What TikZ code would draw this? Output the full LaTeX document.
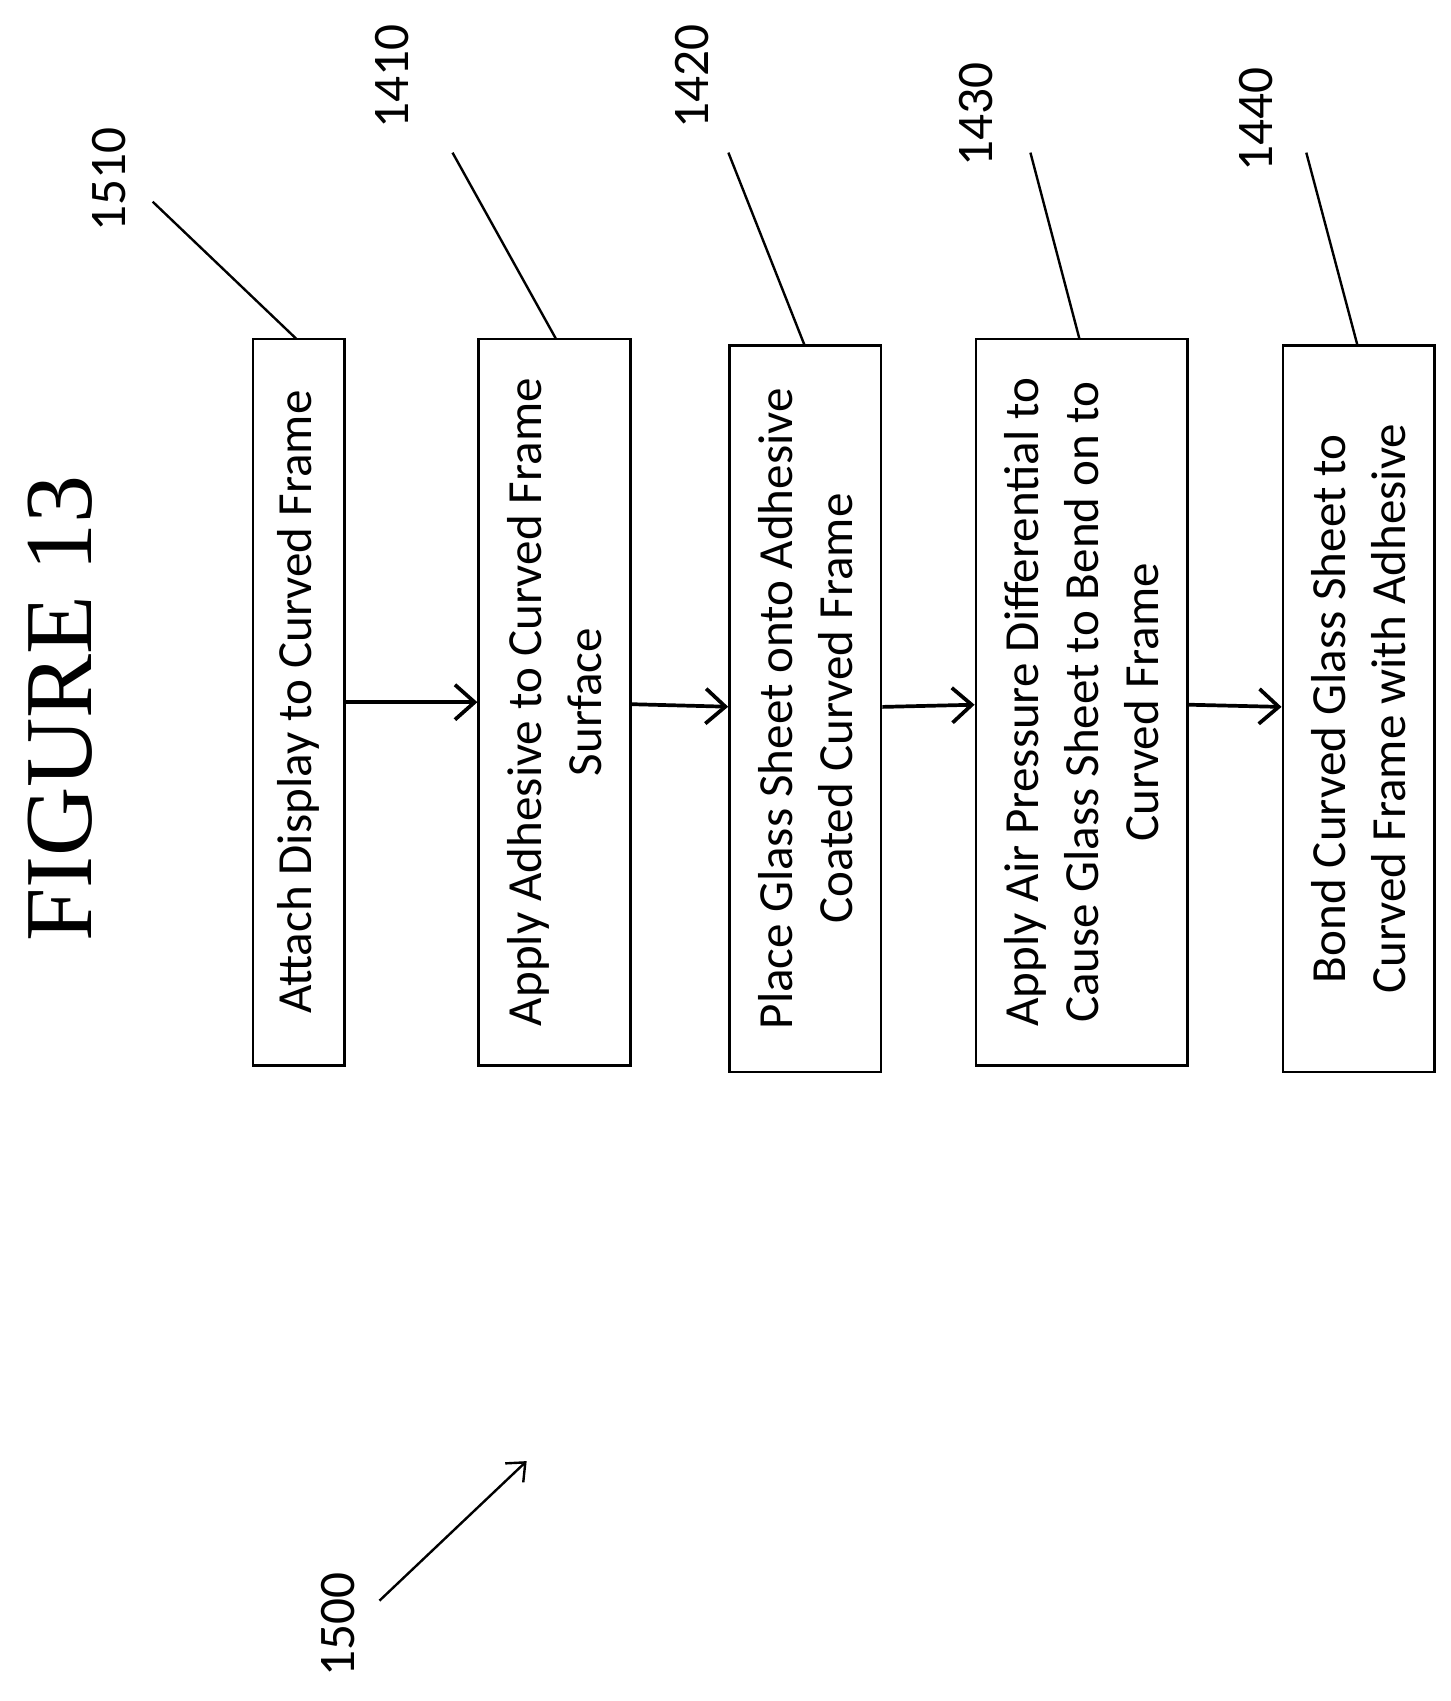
\documentclass[tikz,border=0pt]{standalone}
\usepackage{fontspec}
\setmainfont{Liberation Serif}
\newfontfamily\boxfont{Carlito}
\usetikzlibrary{arrows.meta}
\begin{document}
\begin{tikzpicture}[x=1pt,y=1pt,
  box/.style={draw,line width=2.4pt,rotate=90,minimum width=666pt,align=center,inner sep=0pt,font=\boxfont\fontsize{45}{55}\selectfont},
  lbl/.style={rotate=90,font=\boxfont\fontsize{47}{50}\selectfont},
  lead/.style={line width=2.2pt},
  flow/.style={line width=3.4pt,-{Straight Barb[length=18pt,width=32pt,line width=3.4pt]}}]
\useasboundingbox (0,0) rectangle (1330,1560);
\node[rotate=90,font=\fontsize{88}{90}\selectfont] (title) at (55,910) {FIGURE 13};
\node[box,minimum height=84pt] (b1) at (274,916) {Attach Display to Curved Frame};
\node[box,minimum height=139pt] (b2) at (508.5,916) {Apply Adhesive to Curved Frame\\Surface};
\node[box,minimum height=139pt] (b3) at (738.5,910) {Place Glass Sheet onto Adhesive\\Coated Curved Frame};
\node[box,minimum height=194pt] (b4) at (992,916) {Apply Air Pressure Differential to\\Cause Glass Sheet to Bend on to\\Curved Frame};
\node[box,minimum height=139pt] (b5) at (1246,910) {Bond Curved Glass Sheet to\\Curved Frame with Adhesive};
\draw[flow] (b1) -- (b2);
\draw[flow] (b2) -- (b3);
\draw[flow] (b3) -- (b4);
\draw[flow] (b4) -- (b5);
\node[lbl] (l1510) at (100,1395) {1510};
\node[lbl] (l1410) at (360,1490) {1410};
\node[lbl] (l1420) at (635,1490) {1420};
\node[lbl] (l1430) at (895,1455) {1430};
\node[lbl] (l1440) at (1152,1450) {1440};
\node[lbl] (l1500) at (310,70) {1500};
\coordinate (s1) at (140,1375); \coordinate (e1) at (272,1249);
\coordinate (s2) at (415,1420); \coordinate (e2) at (510,1249);
\coordinate (s3) at (668,1420); \coordinate (e3) at (738,1243);
\coordinate (s4) at (945,1420); \coordinate (e4) at (990,1249);
\coordinate (s5) at (1198,1420); \coordinate (e5) at (1245,1243);
\coordinate (s6) at (348,92); \coordinate (e6) at (483,220);
\draw[lead] (s1) -- (e1);
\draw[lead] (s2) -- (e2);
\draw[lead] (s3) -- (e3);
\draw[lead] (s4) -- (e4);
\draw[lead] (s5) -- (e5);
\draw[lead,-{Straight Barb[length=14pt,width=24pt,line width=2.2pt]}] (s6) -- (e6);
\end{tikzpicture}
\end{document}
